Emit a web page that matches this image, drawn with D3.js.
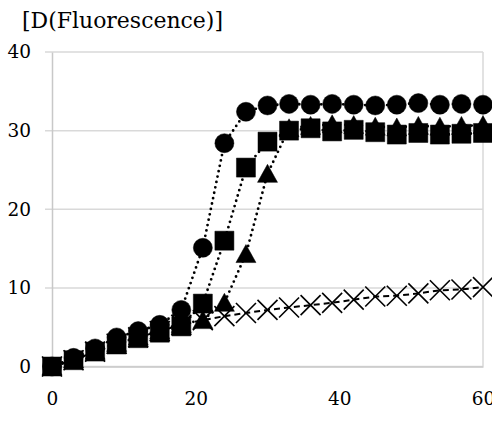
<!DOCTYPE html>
<html>
<head>
<meta charset="utf-8">
<script src="https://cdn.jsdelivr.net/npm/d3@7"></script>
<style>
  body { margin: 0; background: #fff; }
</style>
</head>
<body>
<svg></svg>
<script>
const width = 492
const height = 438

const times = [0, 3, 6, 9, 12, 15, 18, 21, 24, 27, 30, 33, 36, 39, 42, 45, 48, 51, 54, 57, 60]
const circleVals = [0, 1.1, 2.3, 3.7, 4.5, 5.3, 7.2, 15.1, 28.4, 32.4, 33.2, 33.4, 33.3, 33.4, 33.3, 33.2, 33.3, 33.5, 33.3, 33.4, 33.3]
const triangleVals = [0, 0.9, 2.0, 3.0, 3.8, 4.6, 5.4, 5.9, 8.1, 14.3, 24.5, 30.3, 30.6, 30.8, 30.7, 30.5, 30.4, 30.6, 30.5, 30.6, 30.7]
const squareVals = [0, 0.8, 1.9, 2.8, 3.6, 4.3, 5.1, 8.0, 16.0, 25.3, 28.6, 30.0, 30.3, 29.9, 30.1, 29.8, 29.5, 29.7, 29.5, 29.6, 29.7]
const crossVals = [0, 0.8, 1.9, 2.9, 3.7, 4.5, 5.3, 5.9, 6.4, 6.8, 7.2, 7.5, 7.8, 8.1, 8.5, 8.9, 9.0, 9.3, 9.7, 9.8, 10.1]
const xTicks = [0, 20, 40, 60]
const yTicks = [0, 10, 20, 30, 40]
const title = '[D(Fluorescence)]'

const margin = { top: 52, bottom: 71.5, left: 52, right: 9 }
const serif = '"DejaVu Serif", serif'

const svg = d3.select('svg')
  .attr('width', width)
  .attr('height', height)

/** scales */
const xScale = d3.scaleLinear()
  .domain([0, 60])
  .range([margin.left, width - margin.right])
const yScale = d3.scaleLinear()
  .domain([0, 40])
  .range([height - margin.bottom, margin.top])

/** gridlines */
svg.append('g')
  .selectAll('line')
  .data(yTicks)
  .enter()
  .append('line')
  .attr('x1', margin.left - 7)
  .attr('x2', width - margin.right)
  .attr('y1', d => yScale(d))
  .attr('y2', d => yScale(d))
  .attr('stroke', '#d9d9d9')
  .attr('stroke-width', 1.5)

// right edge of the plot area
svg.append('line')
  .attr('x1', width - margin.right)
  .attr('x2', width - margin.right)
  .attr('y1', yScale(40))
  .attr('y2', yScale(0))
  .attr('stroke', '#d9d9d9')
  .attr('stroke-width', 1.5)

/** axes */
const yAxis = d3.axisLeft(yScale)
  .tickValues(yTicks)
  .tickSize(0)
  .tickPadding(21)
  .tickFormat(d3.format('d'))
const yG = svg.append('g')
  .attr('transform', `translate(${margin.left},0)`)
  .call(yAxis)
yG.select('.domain').attr('stroke', '#c8c8c8').attr('stroke-width', 1.5)
yG.selectAll('text')
  .attr('font-size', 18.5)
  .style('font-family', serif)
  .attr('fill', '#000')

const xAxis = d3.axisBottom(xScale)
  .tickValues(xTicks)
  .tickSize(0)
  .tickPadding(25)
  .tickFormat(d3.format('d'))
const xG = svg.append('g')
  .attr('transform', `translate(0,${height - margin.bottom})`)
  .call(xAxis)
xG.select('.domain').attr('stroke', '#c8c8c8').attr('stroke-width', 1.5)
xG.selectAll('text')
  .attr('font-size', 18.5)
  .style('font-family', serif)
  .attr('fill', '#000')

/** title */
svg.append('text')
  .attr('x', 22)
  .attr('y', 28)
  .attr('font-size', 23)
  .attr('textLength', 201)
  .attr('lengthAdjust', 'spacingAndGlyphs')
  .style('font-family', serif)
  .attr('fill', '#000')
  .text(title)

/** marker shapes */
const circlePath = 'M9.5,0A9.5,9.5,0,1,1,-9.5,0A9.5,9.5,0,1,1,9.5,0Z'
const squarePath = 'M-9.5,-9.5H9.5V9.5H-9.5Z'
const trianglePath = 'M0,-9.5L10,8.5L-10,8.5Z'
const crossPath = 'M-10,-10L10,10M10,-10L-10,10'

const series = [
  { vals: circleVals, path: circlePath, dash: '0,5.5', filled: true },
  { vals: triangleVals, path: trianglePath, dash: '0,5.5', filled: true },
  { vals: squareVals, path: squarePath, dash: '0,5.5', filled: true },
  { vals: crossVals, path: crossPath, dash: '6,4', filled: false }
]

const line = d3.line()
  .x(d => xScale(d[0]))
  .y(d => yScale(d[1]))

series.forEach(s => {
  const pts = times.map((t, i) => [t, s.vals[i]])
  svg.append('path')
    .datum(pts)
    .attr('d', line)
    .attr('fill', 'none')
    .attr('stroke', '#000')
    .attr('stroke-width', s.filled ? 2.8 : 2)
    .attr('stroke-linecap', s.filled ? 'round' : 'butt')
    .attr('stroke-dasharray', s.dash)

  svg.append('g')
    .selectAll('path')
    .data(pts)
    .enter()
    .append('path')
    .attr('d', s.path)
    .attr('transform', d => `translate(${xScale(d[0])},${yScale(d[1])})`)
    .attr('fill', s.filled ? '#000' : 'none')
    .attr('stroke', '#000')
    .attr('stroke-width', s.filled ? 0.5 : 1.6)
})
</script>
</body>
</html>
